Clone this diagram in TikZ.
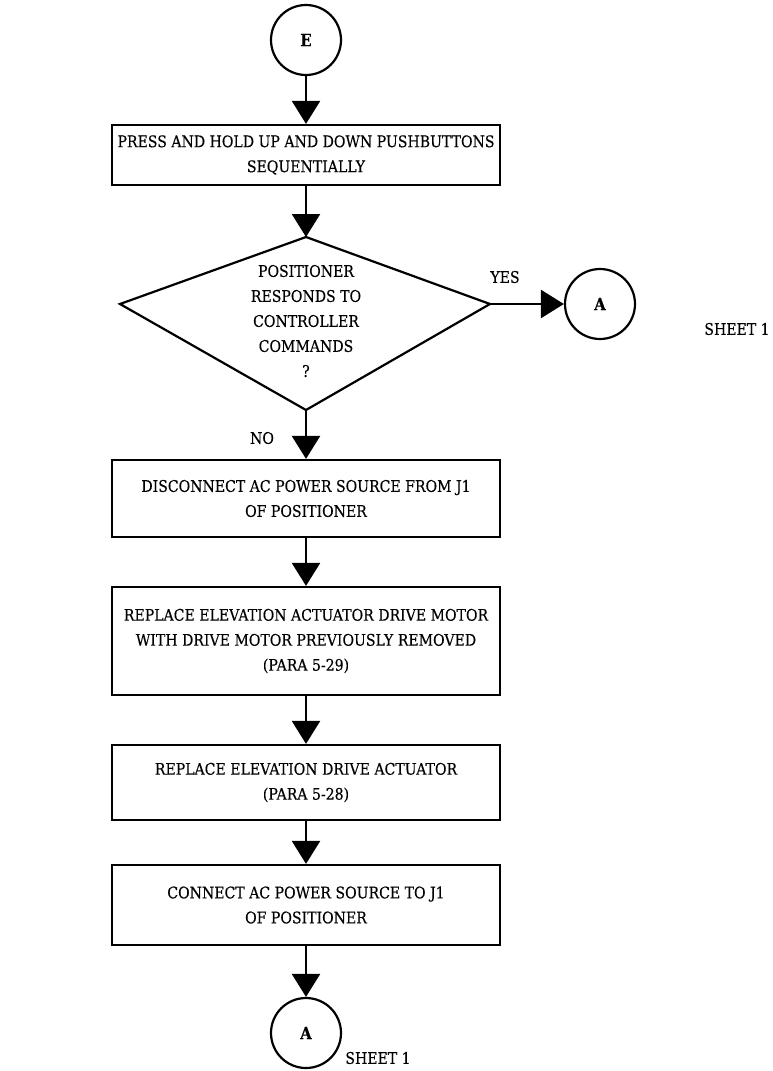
\documentclass[tikz,border=0pt]{standalone}
\usepackage{fontspec}
\setmainfont{DejaVu Serif}[FakeStretch=0.88,FakeBold=0.3]
\usetikzlibrary{arrows.meta,shapes.geometric}
\begin{document}
\begin{tikzpicture}[x=1pt,y=-1pt,
  every node/.style={font=\fontsize{16}{25}\selectfont},
  stepbox/.style={draw, line width=2.2pt, rectangle, minimum width=388pt, align=center, inner sep=0pt},
  conn/.style={draw, line width=2.2pt, circle, minimum size=70pt, inner sep=0pt, font=\fontsize{17}{19}\selectfont\bfseries},
  edge/.style={line width=2.2pt, line join=miter},
  flow/.style={line width=2.4pt, -{Triangle[length=23pt,width=28pt]}},
  lbl/.style={inner sep=0pt, align=center}
]
\useasboundingbox (0,0) rectangle (773,1071);

\node[conn] (E) at (306,40) {E};
\node[stepbox, minimum height=60pt] (b1) at (306,155) {PRESS AND HOLD UP AND DOWN PUSHBUTTONS\\SEQUENTIALLY};
\coordinate (dT) at (306,237);
\coordinate (dR) at (490,304);
\coordinate (dB) at (306,410);
\coordinate (dL) at (120,304);
\draw[edge] (dT) -- (dR) -- (dB) -- (dL) -- cycle;
\node[lbl] (dt) at (306,321) {POSITIONER\\RESPONDS TO\\CONTROLLER\\COMMANDS\\?};
\node[conn] (A1) at (600,304) {A};
\node[lbl] (yes) at (505,277) {YES};
\node[lbl] (s1) at (737,329) {SHEET 1};
\node[lbl] (no) at (262,438) {NO};
\node[stepbox, minimum height=77pt] (b2) at (306,498.5) {DISCONNECT AC POWER SOURCE FROM J1\\OF POSITIONER};
\node[stepbox, minimum height=108pt] (b3) at (306,641) {REPLACE ELEVATION ACTUATOR DRIVE MOTOR\\WITH DRIVE MOTOR PREVIOUSLY REMOVED\\(PARA 5-29)};
\node[stepbox, minimum height=75pt] (b4) at (306,782.5) {REPLACE ELEVATION DRIVE ACTUATOR\\(PARA 5-28)};
\node[stepbox, minimum height=80pt] (b5) at (306,905) {CONNECT AC POWER SOURCE TO J1\\OF POSITIONER};
\node[conn] (A2) at (306,1033) {A};
\node[lbl] (s2) at (378,1058) {SHEET 1};

\draw[flow] (E) -- (b1);
\draw[flow] (b1) -- (dT);
\draw[flow] (dR) -- (A1);
\draw[flow] (dB) -- (b2);
\draw[flow] (b2) -- (b3);
\draw[flow] (b3) -- (b4);
\draw[flow] (b4) -- (b5);
\draw[flow] (b5) -- (A2);
\end{tikzpicture}
\end{document}
